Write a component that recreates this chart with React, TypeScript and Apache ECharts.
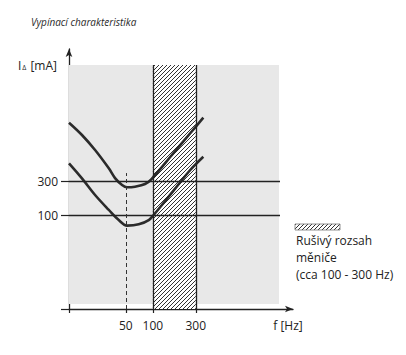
import { useEffect, useRef } from 'react';
import * as echarts from 'echarts';

// ---- data (log-log schematic) ----
const titleText = 'Vypínací charakteristika';
const yAxisLabelParts = ['I', 'Δ', ' [mA]'];
const xAxisTitle = 'f [Hz]';
const xTickValues = [50, 100, 300];
const yTickValues = [100, 300];
const xExtent = [11.7, 3612];
const yExtent = [4.8, 21360];
const thresholdLevels = [100, 300];
const thresholdEnd = 2590;
const noiseBand = [100, 300];
const noiseBandTop = 12740;
const backdropX = [11.7, 2525];
const backdropY = [5.64, 12740];
const nominalFreq = 50;
const nominalLineTop = 388;
const upperFreq = [11.7, 16.3, 22.8, 32.4, 38, 45.5, 51.7, 63.4, 81.9, 96.7, 169, 259, 364];
const upperCurrent = [1974, 1327, 817, 452, 330, 264, 245, 250, 272, 320, 736, 1393, 2320];
const lowerFreq = [11.7, 16.3, 22.8, 32.4, 41.8, 51.7, 69.7, 90, 102, 169, 259, 364];
const lowerCurrent = [531, 327, 191, 118, 85, 71, 74, 85, 100, 218, 425, 658];
const legendLines = ['Rušivý rozsah', 'měniče', '(cca 100 - 300 Hz)'];

const FONT = '"Open Sans", "Noto Sans", sans-serif';
const INK = '#222';

function makeHatch(): HTMLCanvasElement {
  const c = document.createElement('canvas');
  c.width = 4;
  c.height = 4;
  const ctx = c.getContext('2d')!;
  ctx.fillStyle = '#ffffff';
  ctx.fillRect(0, 0, 4, 4);
  ctx.strokeStyle = '#333333';
  ctx.lineWidth = 1;
  ctx.beginPath();
  ctx.moveTo(-1, 5);
  ctx.lineTo(5, -1);
  ctx.moveTo(-1, 1);
  ctx.lineTo(1, -1);
  ctx.moveTo(3, 5);
  ctx.lineTo(5, 3);
  ctx.stroke();
  return c;
}

export default function App() {
  const ref = useRef<HTMLDivElement>(null);
  useEffect(() => {
    if (!ref.current) return;
    const chart = echarts.init(ref.current, null, { renderer: 'svg' });
    const hatchCanvas = makeHatch();
    const hatch: any = { image: hatchCanvas, repeat: 'repeat', imageWidth: 4, imageHeight: 4 };

    const option: any = {
      animation: false,
      backgroundColor: '#ffffff',
      title: {
        text: titleText,
        left: 26,
        top: 12,
        textStyle: { fontFamily: FONT, fontSize: 10, fontStyle: 'italic', fontWeight: 'normal', color: '#2a2a2a' },
      },
      grid: { left: 69, right: 113, top: 49, bottom: 46, outerBoundsMode: 'none', containLabel: false },
      xAxis: {
        type: 'log',
        min: xExtent[0],
        max: xExtent[1],
        name: xAxisTitle,
        nameLocation: 'end',
        nameGap: -5,
        nameTextStyle: { fontFamily: FONT, fontSize: 12, color: INK, align: 'center', verticalAlign: 'top', padding: [10, 0, 0, 0] },
        axisLine: { show: true, lineStyle: { color: INK, width: 1.3 }, symbol: ['none', 'arrow'], symbolSize: [5, 8] },
        axisTick: { show: true, customValues: [xExtent[0] * 1.001, ...xTickValues], length: 4, inside: false, lineStyle: { color: INK, width: 1.2 } },
        axisLabel: { show: true, customValues: xTickValues, margin: 10, fontFamily: FONT, fontSize: 12, color: INK },
        splitLine: { show: false },
        minorTick: { show: false },
        minorSplitLine: { show: false },
      },
      yAxis: {
        type: 'log',
        min: yExtent[0],
        max: yExtent[1],
        name: `{i|${yAxisLabelParts[0]}}{d|${yAxisLabelParts[1]}}{i|${yAxisLabelParts[2]}}`,
        nameLocation: 'end',
        nameGap: -16,
        nameTextStyle: {
          align: 'right',
          verticalAlign: 'middle',
          padding: [0, 12, 0, 0],
          rich: {
            i: { fontFamily: FONT, fontSize: 12, color: INK, verticalAlign: 'bottom' },
            d: { fontFamily: FONT, fontSize: 7, color: INK, verticalAlign: 'bottom', padding: [0, 1, 0, 1] },
          },
        },
        axisLine: { show: true, lineStyle: { color: INK, width: 1.3 }, symbol: ['none', 'arrow'], symbolSize: [5, 8] },
        axisTick: { show: true, customValues: [yExtent[0] * 1.001, ...yTickValues], length: 8, inside: false, lineStyle: { color: INK, width: 1.2 } },
        axisLabel: { show: true, customValues: yTickValues, margin: 11, fontFamily: FONT, fontSize: 12, color: INK },
        splitLine: { show: false },
        minorTick: { show: false },
        minorSplitLine: { show: false },
      },
      series: [
        {
          type: 'line',
          name: 'backdrop',
          data: [],
          silent: true,
          markArea: {
            silent: true,
            itemStyle: { color: '#e8e8e8' },
            data: [[{ coord: [backdropX[0], backdropY[0]] }, { coord: [backdropX[1], backdropY[1]] }]],
          },
        },
        {
          type: 'line',
          name: 'Rušivý rozsah',
          data: [],
          silent: true,
          markArea: {
            silent: true,
            itemStyle: { color: hatch },
            data: [[{ coord: [noiseBand[0], yExtent[0]] }, { coord: [noiseBand[1], noiseBandTop] }]],
          },
          markLine: {
            silent: true,
            symbol: ['none', 'none'],
            label: { show: false },
            lineStyle: { color: INK, width: 1.3, type: 'solid' },
            data: [
              ...noiseBand.map((f) => [{ coord: [f, yExtent[0]] }, { coord: [f, noiseBandTop] }]),
              ...thresholdLevels.map((v) => [{ coord: [xExtent[0], v] }, { coord: [thresholdEnd, v] }]),
              [
                { coord: [nominalFreq, yExtent[0]], lineStyle: { type: [4, 3], width: 1, color: '#333' } },
                { coord: [nominalFreq, nominalLineTop] },
              ],
            ],
          },
        },
        {
          type: 'line',
          name: 'upper',
          data: upperFreq.map((f, i) => [f, upperCurrent[i]]),
          smooth: 0.35,
          showSymbol: false,
          silent: true,
          lineStyle: { color: '#2b2b2b', width: 2.6 },
          z: 3,
        },
        {
          type: 'line',
          name: 'lower',
          data: lowerFreq.map((f, i) => [f, lowerCurrent[i]]),
          smooth: 0.35,
          showSymbol: false,
          silent: true,
          lineStyle: { color: '#2b2b2b', width: 2.6 },
          z: 3,
        },
      ],
      graphic: [
        {
          type: 'rect',
          shape: { x: 295, y: 224, width: 45, height: 6 },
          style: { fill: hatch, stroke: '#777', lineWidth: 0.8 },
          silent: true,
        },
        {
          type: 'text',
          x: 296,
          y: 232,
          style: {
            text: legendLines.join('\n'),
            fontFamily: FONT,
            fontSize: 12,
            lineHeight: 17,
            fill: INK,
          },
          silent: true,
        },
      ],
    };
    chart.setOption(option);
    return () => chart.dispose();
  }, []);
  return <div ref={ref} style={{ position: 'fixed', left: 0, top: 0, width: 406, height: 355 }} />;
}
